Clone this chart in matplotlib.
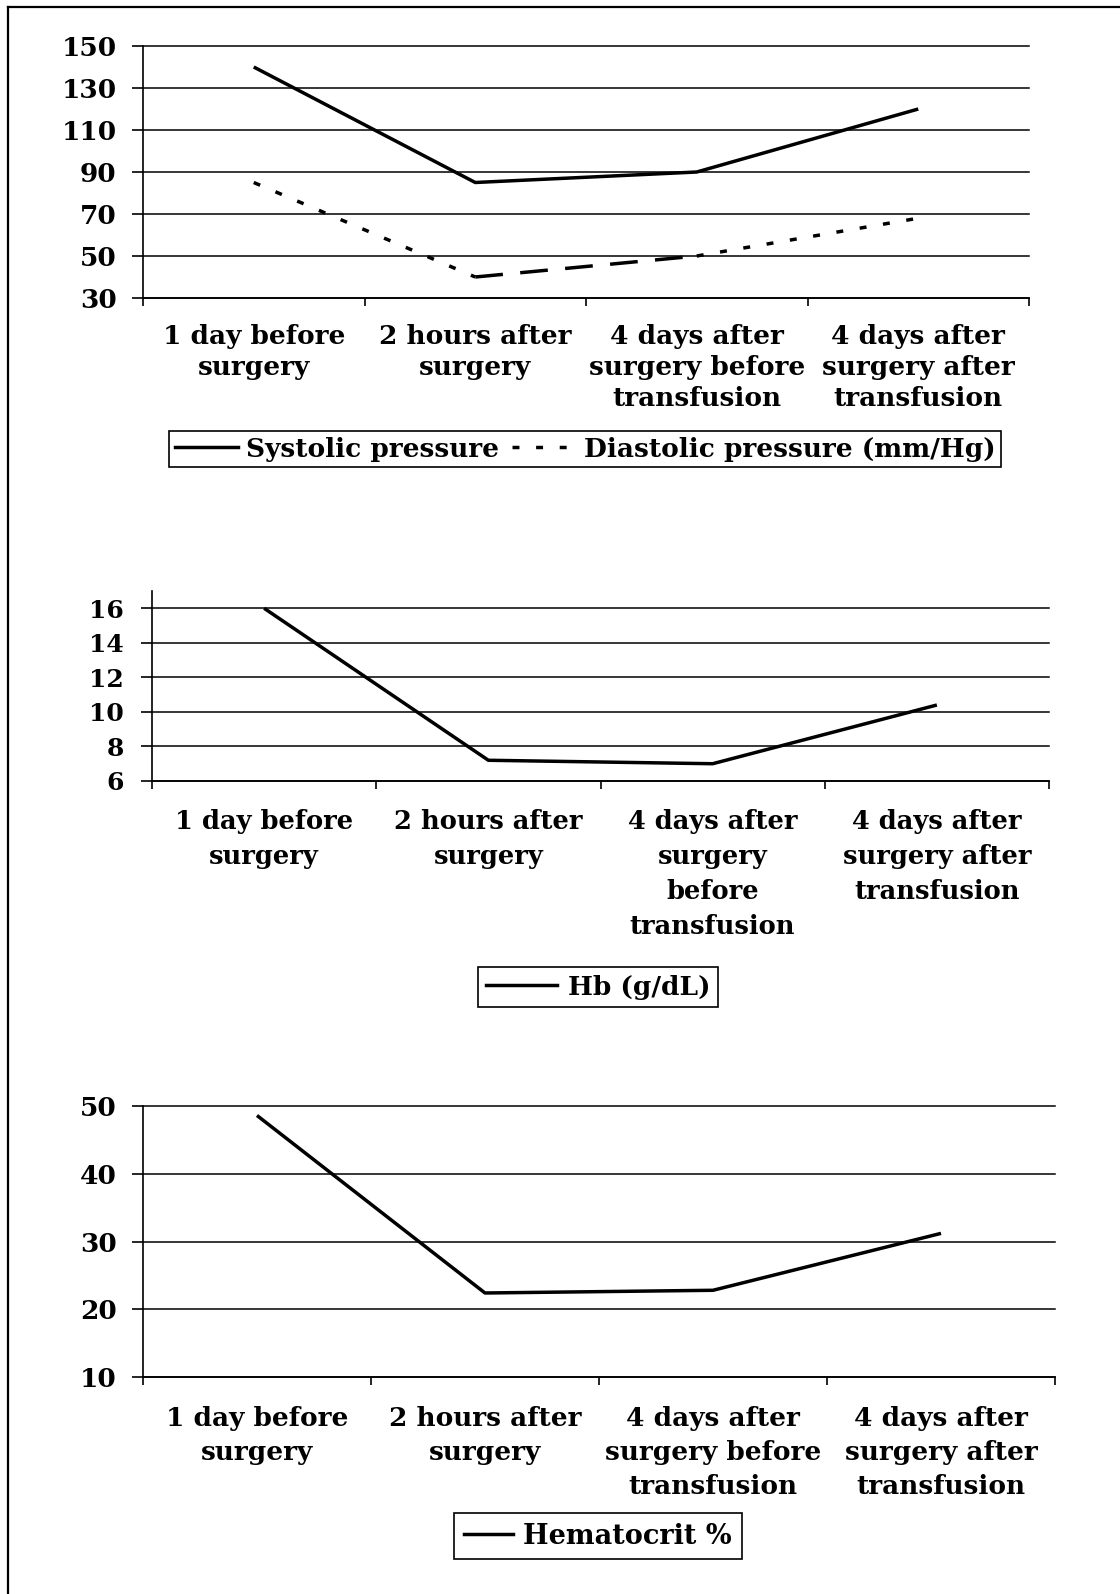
import matplotlib
matplotlib.use("Agg")
import matplotlib.pyplot as plt
from matplotlib.lines import Line2D
import numpy as np

# ---------------- data ----------------
cats_bp = ["1 day before\nsurgery", "2 hours after\nsurgery",
           "4 days after\nsurgery before\ntransfusion",
           "4 days after\nsurgery after\ntransfusion"]
cats_hb = ["1 day before\nsurgery", "2 hours after\nsurgery",
           "4 days after\nsurgery\nbefore\ntransfusion",
           "4 days after\nsurgery after\ntransfusion"]
cats_hct = ["1 day before\nsurgery", "2 hours after\nsurgery",
            "4 days after\nsurgery before\ntransfusion",
            "4 days after\nsurgery after\ntransfusion"]

systolic = [140, 85, 90, 120]
diastolic = [85, 40, 50, 68]
hb = [16, 7.2, 7.0, 10.4]
hct = [48.6, 22.4, 22.8, 31.2]

bp_ticks = [30, 50, 70, 90, 110, 130, 150]
hb_ticks = [6, 8, 10, 12, 14, 16]
hct_ticks = [10, 20, 30, 40, 50]

bp_labels = ["Systolic pressure", "Diastolic pressure (mm/Hg)"]
hb_label = "Hb (g/dL)"
hct_label = "Hematocrit %"

# ---------------- figure ----------------
W, H = 1120, 1594
plt.rcParams["font.family"] = ["DejaVu Serif"]
plt.rcParams["font.weight"] = "bold"
fig = plt.figure(figsize=(W / 100, H / 100), dpi=100)
fig.patch.set_facecolor("white")

LW = 2.5
DOT = (0, (2.0, 4.8))
LONG = (0, (8.0, 5.0))


def px_axes(left, right, top, bottom):
    return fig.add_axes([left / W, 1 - bottom / H, (right - left) / W, (bottom - top) / H])


def style(ax, cats, yticks, ylim, xpad, linesp, fs, yfs, ypad):
    n = len(cats)
    x = np.arange(n)
    ax.set_xlim(-0.5, n - 0.5)
    ax.set_ylim(*ylim)
    ax.set_yticks(yticks)
    ax.set_yticklabels([str(t) for t in yticks], fontsize=yfs, fontweight="bold")
    ax.set_xticks(x)
    ax.set_xticklabels(cats, fontsize=fs, fontweight="bold", linespacing=linesp)
    ax.set_xticks(np.arange(n + 1) - 0.5, minor=True)
    ax.tick_params(axis="x", which="major", length=0, pad=xpad)
    ax.tick_params(axis="x", which="minor", length=6, width=1.2, color="black")
    ax.tick_params(axis="y", length=8, width=1.2, pad=ypad, color="black")
    ax.grid(axis="y", color="black", linewidth=1.1)
    ax.set_axisbelow(True)
    for s in ("top", "right"):
        ax.spines[s].set_visible(False)
    for s in ("left", "bottom"):
        ax.spines[s].set_linewidth(1.2)
        ax.spines[s].set_color("black")
    for gl in ax.get_ygridlines():
        gl.set_clip_on(False)
    return x


# ---- Panel 1: blood pressure ----
ax1 = px_axes(143, 1029, 46, 298)
x1 = style(ax1, cats_bp, bp_ticks, (30, 150), 19, 1.3, 19, 19, 11)
ax1.plot(x1, systolic, color="black", lw=LW, solid_capstyle="butt")
dia_styles = [DOT, LONG, DOT]
for i in range(len(x1) - 1):
    ax1.plot(x1[i:i + 2], diastolic[i:i + 2], color="black", lw=LW,
             linestyle=dia_styles[i], dash_capstyle="butt")

h1 = [Line2D([], [], color="black", lw=LW),
      Line2D([], [], color="black", lw=LW, linestyle=DOT)]
leg1 = fig.legend(h1, bp_labels, loc="center", bbox_to_anchor=(585 / W, 1 - 449 / H),
                  ncol=2, frameon=True, fancybox=False, edgecolor="black", framealpha=1,
                  prop=dict(family="DejaVu Serif", weight="bold", size=19),
                  handlelength=2.4, handletextpad=0.3, columnspacing=0.5,
                  borderpad=0.22, borderaxespad=0)
leg1.get_frame().set_linewidth(1.2)

# ---- Panel 2: Hb ----
ax2 = px_axes(152, 1049, 591, 781)
x2 = style(ax2, cats_hb, hb_ticks, (6, 17), 20, 1.5, 18.5, 18, 12)
ax2.plot(x2, hb, color="black", lw=LW, solid_capstyle="butt")
h2 = [Line2D([], [], color="black", lw=LW)]
leg2 = fig.legend(h2, [hb_label], loc="center", bbox_to_anchor=(598 / W, 1 - 987 / H),
                  frameon=True, fancybox=False, edgecolor="black", framealpha=1,
                  prop=dict(family="DejaVu Serif", weight="bold", size=19),
                  handlelength=2.7, handletextpad=0.4, borderpad=0.3, borderaxespad=0)
leg2.get_frame().set_linewidth(1.2)

# ---- Panel 3: Hematocrit ----
ax3 = px_axes(143, 1055, 1106, 1377)
x3 = style(ax3, cats_hct, hct_ticks, (10, 50), 21, 1.45, 19, 19, 11)
ax3.plot(x3, hct, color="black", lw=LW, solid_capstyle="butt")
h3 = [Line2D([], [], color="black", lw=LW)]
leg3 = fig.legend(h3, [hct_label], loc="center", bbox_to_anchor=(598 / W, 1 - 1536 / H),
                  frameon=True, fancybox=False, edgecolor="black", framealpha=1,
                  prop=dict(family="DejaVu Serif", weight="bold", size=19.5),
                  handlelength=1.8, handletextpad=0.4, borderpad=0.35, borderaxespad=0)
leg3.get_frame().set_linewidth(1.2)

# ---- outer border (left and top edges) ----
fig.add_artist(Line2D([8 / W, 8 / W], [0, 1 - 7 / H], transform=fig.transFigure,
                      color="black", lw=1.6))
fig.add_artist(Line2D([8 / W, 1], [1 - 7 / H, 1 - 7 / H], transform=fig.transFigure,
                      color="black", lw=1.6))

fig.savefig("out.png", dpi=100, facecolor="white")
